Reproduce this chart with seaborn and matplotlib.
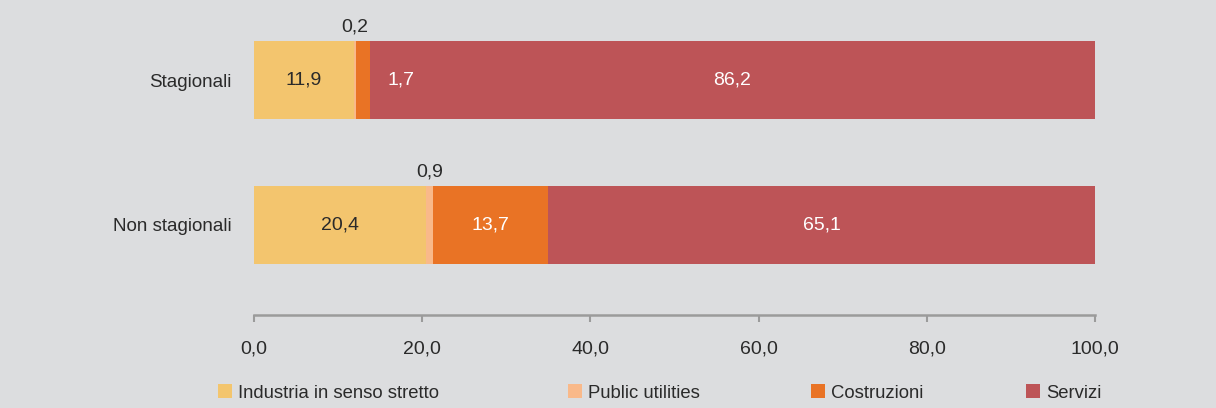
import matplotlib.pyplot as plt
import seaborn as sns
import pandas as pd
import numpy as np
from matplotlib.patches import Patch

# data
gruppi = ['Stagionali', 'Non stagionali']
settori = ['Industria in senso stretto', 'Public utilities', 'Costruzioni', 'Servizi']
industria = [11.9, 20.4]
public_utilities = [0.2, 0.9]
costruzioni = [1.7, 13.7]
servizi = [86.2, 65.1]
colori = ['#F3C56E', '#F9B98A', '#E97325', '#BD5457']

bg = '#DCDDDF'
dark = '#2A2A2A'

sns.set_theme(style='white')
plt.rcParams['font.family'] = ['Liberation Sans', 'DejaVu Sans']
plt.rcParams['font.size'] = 13

valori = np.array([industria, public_utilities, costruzioni, servizi])
cumul = valori.cumsum(axis=0)

fig = plt.figure(figsize=(12.16, 4.08), dpi=100, facecolor=bg)
ax = fig.add_axes([254 / 1216, 1 - 315 / 408, (1095 - 254) / 1216, 305 / 408])
ax.set_facecolor(bg)

# stacked bars: draw cumulative totals from the largest down
for i in reversed(range(len(settori))):
    df = pd.DataFrame({'gruppo': gruppi, 'valore': cumul[i]})
    sns.barplot(data=df, x='valore', y='gruppo', color=colori[i], width=0.538,
                saturation=1, orient='h', linewidth=0, edgecolor='none', ax=ax)

ax.set_xlim(0, 100)
ax.set_ylim(1.621, -0.483)
ax.set_xticks(np.arange(0, 101, 20))
ax.set_xticklabels([f'{v:.1f}'.replace('.', ',') for v in np.arange(0, 101, 20)])
ax.set_xlabel('')
ax.set_ylabel('')
for s in ['top', 'right', 'left']:
    ax.spines[s].set_visible(False)
ax.spines['bottom'].set_color('#9B9B9B')
ax.spines['bottom'].set_linewidth(1.8)
ax.tick_params(axis='x', colors='#9B9B9B', length=5, width=1.5, pad=13,
               labelcolor=dark, labelsize=14, bottom=True)
ax.tick_params(axis='y', length=0, pad=16, labelcolor=dark, labelsize=13.5)

fmt = lambda v: f'{v:.1f}'.replace('.', ',')
for j in range(len(gruppi)):
    start = 0
    for i in range(len(settori)):
        v = valori[i][j]
        mid = start + v / 2
        if v < 1:
            ax.annotate(fmt(v), (mid, j - 0.269), xytext=(0, 4), textcoords='offset points',
                        ha='center', va='bottom', color=dark, fontsize=14)
        elif v < 5:
            ax.text(start + v + 2.1, j, fmt(v), ha='left', va='center',
                    color='white', fontsize=14)
        else:
            ax.text(mid, j, fmt(v), ha='center', va='center', fontsize=14,
                    color=dark if i == 0 else 'white')
        start += v

# legend entries
leg_x = [218, 568, 811, 1026]
for i, nome in enumerate(settori):
    lg = fig.legend(handles=[Patch(facecolor=colori[i], edgecolor='none', label=nome)],
                    loc='center left', bbox_to_anchor=(leg_x[i] / 1216, 1 - 393 / 408),
                    frameon=False, handlelength=0.75, handleheight=0.75, handletextpad=0.35,
                    borderpad=0, borderaxespad=0, fontsize=13.3)
    for t in lg.get_texts():
        t.set_color(dark)

fig.savefig('out.png', dpi=100, facecolor=bg)
